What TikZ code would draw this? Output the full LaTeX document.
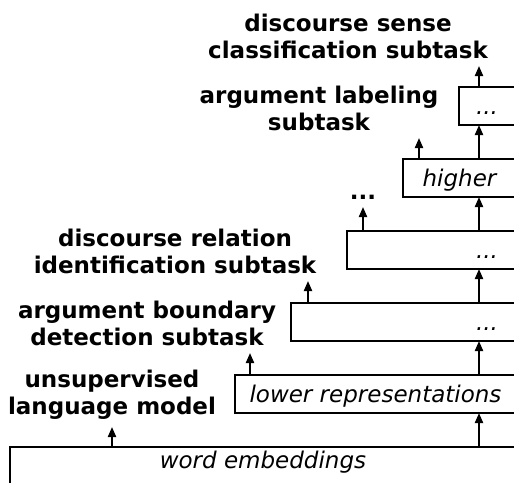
\documentclass[tikz,border=0pt]{standalone}
\usepackage{fontspec}
\setmainfont{DejaVu Sans}
\usetikzlibrary{arrows.meta,positioning}

\begin{document}
\begin{tikzpicture}[
    x=0.5pt, y=-0.5pt,
    layer/.style={draw, line width=1pt, inner xsep=0pt, inner ysep=0pt, outer sep=0pt, text height=13.5pt, text depth=5.5pt, font=\fontsize{11.5}{13.5}\selectfont\itshape},
    task/.style={align=center, inner sep=3.5pt, font=\fontsize{11.5}{13.5}\selectfont\bfseries},
    ellip/.style={inner sep=0pt, font=\fontsize{11.5}{13.5}\selectfont\itshape},
    arrow/.style={-{Triangle[length=5pt,width=4pt]}, line width=1pt},
    node distance=17pt and 28pt
]
    \useasboundingbox (0,0) rectangle (514,482);
    \clip (0,0) rectangle (514,482);

    % Layers (cut off by the right edge)
    \node[layer, anchor=north west, minimum width=253pt, text height=10.5pt, text depth=12pt] (emb) at (10,447) {word embeddings};
    \node[layer, above right=17pt and 112.5pt of emb.north west, minimum width=140.5pt] (lower) {lower representations};
    \node[layer, above right=of lower.north west, minimum width=112.5pt] (mid1) {};
    \node[layer, above right=of mid1.north west, minimum width=84.5pt] (mid2) {};
    \node[layer, above right=of mid2.north west, minimum width=56.5pt] (higher) {higher};
    \node[layer, above right=of higher.north west, minimum width=28.5pt] (upper) {};

    % Ellipses inside the layers
    \node[ellip, anchor=base] (dots1) at ([xshift=-14.5pt]mid1.base east) {...};
    \node[ellip, anchor=base] (dots2) at ([xshift=-14.5pt]mid2.base east) {...};
    \node[ellip, anchor=base] (dots3) at ([xshift=-14.5pt]upper.base east) {...};

    % Subtasks
    \node[task, anchor=south] (ulm) at (112,427) {unsupervised\\language model};
    \node[task, anchor=south] (bound) at (147,353) {argument boundary\\detection subtask};
    \node[task, anchor=south] (rel) at (175,281) {discourse relation\\identification subtask};
    \node[task, anchor=south] (more) at (363,207) {...};
    \node[task, anchor=south] (lab) at (319,138) {argument labeling\\subtask};
    \node[task, anchor=south] (sense) at (348,66) {discourse sense\\classification subtask};

    % Arrows
    \coordinate (spine) at (479,0);
    \draw[arrow] (emb.north -| spine) -- (lower.south -| spine);
    \draw[arrow] (lower.north -| spine) -- (mid1.south -| spine);
    \draw[arrow] (mid1.north -| spine) -- (mid2.south -| spine);
    \draw[arrow] (mid2.north -| spine) -- (higher.south -| spine);
    \draw[arrow] (higher.north -| spine) -- (upper.south -| spine);
    \draw[arrow] (upper.north -| spine) -- (spine |- sense.south);
    \draw[arrow] (emb.north -| ulm.south) -- (ulm.south);
    \draw[arrow] (lower.north west) ++(15,0) coordinate (tap1) -- (tap1 |- bound.south);
    \draw[arrow] (mid1.north west) ++(17,0) coordinate (tap2) -- (tap2 |- rel.south);
    \draw[arrow] (mid2.north west) ++(16,0) coordinate (tap3) -- (tap3 |- more.south);
    \draw[arrow] (higher.north west) ++(16,0) coordinate (tap4) -- (tap4 |- lab.south);
\end{tikzpicture}
\end{document}
